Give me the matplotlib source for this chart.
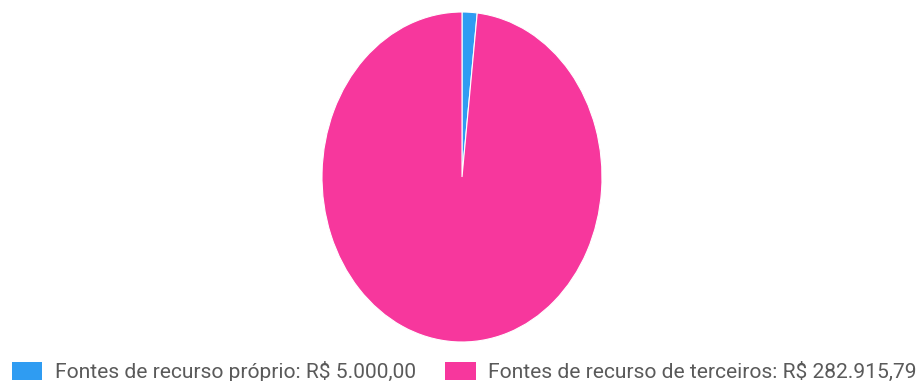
import matplotlib.pyplot as plt
from matplotlib.patches import Patch

categorias = ['Fontes de recurso próprio', 'Fontes de recurso de terceiros']
valores = [5000.00, 282915.79]
cores = ['#2f9cf2', '#f7379d']


def brl(v):
    s = f'{v:,.2f}'
    return s.replace(',', 'X').replace('.', ',').replace('X', '.')


plt.rcParams['font.family'] = ['Roboto', 'DejaVu Sans']

fig = plt.figure(figsize=(9.18, 3.81), dpi=100)
ax = fig.add_axes([322 / 918, 39 / 381, 280 / 918, 330 / 381])
ax.pie(valores, colors=cores, startangle=90, counterclock=False,
       wedgeprops=dict(edgecolor='white', linewidth=0.8))
ax.set_aspect('auto')
ax.set_xlim(-1, 1)
ax.set_ylim(-1, 1)
ax.axis('off')

handles = [Patch(facecolor=c, edgecolor='none') for c in cores]
labels = [f'{n}: R$ {brl(v)}' for n, v in zip(categorias, valores)]
fig.legend(handles, labels, ncol=2, loc='lower left',
           bbox_to_anchor=(12 / 918, -0.002), frameon=False, fontsize=15.1,
           handlelength=1.45, handleheight=0.95, handletextpad=0.6,
           columnspacing=1.4, borderpad=0, borderaxespad=0,
           labelcolor='#5a5a5a')

fig.savefig('out.png', dpi=100, facecolor='white')
